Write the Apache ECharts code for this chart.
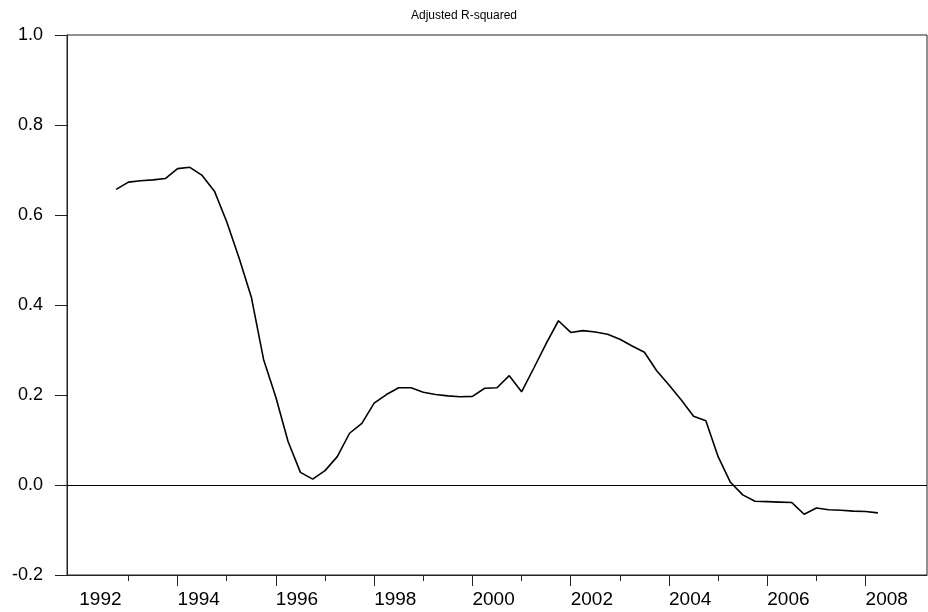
<!DOCTYPE html>
<html>
<head>
<meta charset="utf-8">
<title>Adjusted R-squared</title>
<script src="https://cdn.jsdelivr.net/npm/echarts@6/dist/echarts.min.js"></script>
<style>
    html, body { margin: 0; padding: 0; background: #fff; }
    #chart { width: 928px; height: 612px; }
</style>
</head>
<body>
<div id="chart"></div>
<script>
// quarters of the rolling sample
var quarters = [
    '1992Q4',
    '1993Q1', '1993Q2', '1993Q3', '1993Q4',
    '1994Q1', '1994Q2', '1994Q3', '1994Q4',
    '1995Q1', '1995Q2', '1995Q3', '1995Q4',
    '1996Q1', '1996Q2', '1996Q3', '1996Q4',
    '1997Q1', '1997Q2', '1997Q3', '1997Q4',
    '1998Q1', '1998Q2', '1998Q3', '1998Q4',
    '1999Q1', '1999Q2', '1999Q3', '1999Q4',
    '2000Q1', '2000Q2', '2000Q3', '2000Q4',
    '2001Q1', '2001Q2', '2001Q3', '2001Q4',
    '2002Q1', '2002Q2', '2002Q3', '2002Q4',
    '2003Q1', '2003Q2', '2003Q3', '2003Q4',
    '2004Q1', '2004Q2', '2004Q3', '2004Q4',
    '2005Q1', '2005Q2', '2005Q3', '2005Q4',
    '2006Q1', '2006Q2', '2006Q3', '2006Q4',
    '2007Q1', '2007Q2', '2007Q3', '2007Q4',
    '2008Q1', '2008Q2'
];

// adjusted R-squared
var adjR2 = [
    0.657,
    0.673, 0.676, 0.678, 0.681,
    0.703, 0.706, 0.688, 0.653,
    0.585, 0.505, 0.418, 0.279,
    0.195, 0.096, 0.028, 0.013,
    0.032, 0.063, 0.115, 0.137,
    0.182, 0.201, 0.216, 0.216,
    0.206, 0.201, 0.198, 0.196,
    0.197, 0.215, 0.216, 0.243,
    0.207, 0.260, 0.314, 0.365,
    0.339, 0.343, 0.340, 0.335,
    0.324, 0.309, 0.295, 0.254,
    0.222, 0.189, 0.153, 0.143,
    0.063, 0.006, -0.022, -0.036,
    -0.037, -0.038, -0.039, -0.065,
    -0.051, -0.055, -0.056, -0.058,
    -0.059, -0.062
];

// axis ticks (no tick drawn at 1992, too close to the frame)
var labelYears = [1992, 1994, 1996, 1998, 2000, 2002, 2004, 2006, 2008];
var majorYears = [1994, 1996, 1998, 2000, 2002, 2004, 2006, 2008];
var minorYears = [1993, 1995, 1997, 1999, 2001, 2003, 2005, 2007];

// '1994Q1' -> 1994.0, '1994Q3' -> 1994.5
function quarterToYear(q) {
    var y = parseInt(q.substr(0, 4), 10);
    var n = parseInt(q.substr(5, 1), 10);
    return y + (n - 1) / 4;
}

var seriesData = quarters.map(function (q, i) {
    return [quarterToYear(q), adjR2[i]];
});

var FONT = "'Liberation Sans', Arial, Helvetica, sans-serif";

var oChart = echarts.init(document.getElementById('chart'));

var oOption = {
    backgroundColor: '#fff',
    animation: false,
    title: {
        text: 'Adjusted R-squared',
        left: 'center',
        top: 5,
        textStyle: { fontFamily: FONT, fontSize: 12, fontWeight: 'normal', color: '#000' }
    },
    grid: {
        left: 67,
        right: 1,
        top: 35,
        bottom: 37,
        show: true,
        borderColor: '#222',
        borderWidth: 1,
        containLabel: false
    },
    xAxis: [
        {
            type: 'value',
            position: 'bottom',
            min: 1991.75,
            max: 2009.25,
            axisLine: { show: true, onZero: false, lineStyle: { color: '#222', width: 1 } },
            axisTick: {
                show: true,
                length: 11,
                customValues: majorYears,
                lineStyle: { color: '#222' }
            },
            axisLabel: {
                customValues: labelYears,
                align: 'left',
                margin: 15,
                fontFamily: FONT,
                fontSize: 19,
                color: '#000',
                formatter: function (v) { return String(Math.round(v)); }
            },
            splitLine: { show: false }
        },
        {
            // short ticks for odd years
            type: 'value',
            position: 'bottom',
            min: 1991.75,
            max: 2009.25,
            axisLine: { show: false, onZero: false },
            axisTick: {
                show: true,
                length: 6,
                customValues: minorYears,
                lineStyle: { color: '#222' }
            },
            axisLabel: { show: false },
            splitLine: { show: false }
        }
    ],
    yAxis: {
        type: 'value',
        min: -0.2,
        max: 1.0,
        interval: 0.2,
        axisLine: { show: true, onZero: false, lineStyle: { color: '#222', width: 1 } },
        axisTick: { show: true, length: 12, lineStyle: { color: '#222' } },
        axisLabel: {
            margin: 24,
            fontFamily: FONT,
            fontSize: 18,
            color: '#000',
            formatter: function (v) { return v.toFixed(1); }
        },
        splitLine: { show: false }
    },
    series: [
        {
            name: 'Adjusted R-squared',
            type: 'line',
            xAxisIndex: 0,
            data: seriesData,
            showSymbol: false,
            lineStyle: { color: '#000', width: 1.6 },
            markLine: {
                silent: true,
                symbol: 'none',
                label: { show: false },
                lineStyle: { color: '#000', width: 1, type: 'solid' },
                data: [{ yAxis: 0 }]
            }
        }
    ]
};

oChart.setOption(oOption);
</script>
</body>
</html>
